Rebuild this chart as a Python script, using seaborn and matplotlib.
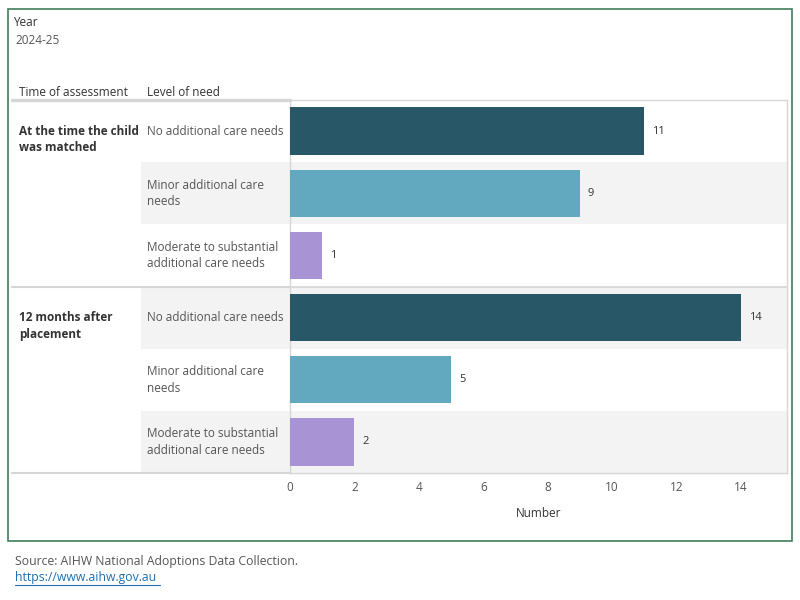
import pandas as pd
import seaborn as sns
import matplotlib.pyplot as plt
from matplotlib.patches import Rectangle
from matplotlib.transforms import blended_transform_factory

sns.set_theme(style="white")
plt.rcParams["font.family"] = ["Open Sans", "DejaVu Sans"]

# data
times = ["At the time the child\nwas matched", "12 months after\nplacement"]
levels = ["No additional care needs", "Minor additional care\nneeds",
          "Moderate to substantial\nadditional care needs"]
matched = [11, 9, 1]
after_12m = [14, 5, 2]
x_ticks = [0, 2, 4, 6, 8, 10, 12, 14]

colors = ["#285767", "#62a9c0", "#a894d5"]
GREY_TXT = "#555555"
DARK_TXT = "#333333"
LINE = "#d6d6d6"
BAND = "#f3f3f3"

rows = []
for t, vals in zip(times, [matched, after_12m]):
    for lv, v in zip(levels, vals):
        rows.append({"row": t + "|" + lv, "time": t, "level": lv, "value": v})
df = pd.DataFrame(rows)

W, H = 800, 600
fig = plt.figure(figsize=(8, 6), dpi=100)
ax_l, ax_r, ax_t, ax_b = 290, 787, 100, 473
ax = fig.add_axes([ax_l / W, 1 - ax_b / H, (ax_r - ax_l) / W, (ax_b - ax_t) / H])

sns.barplot(data=df, x="value", y="row", hue="level", palette=colors,
            order=df["row"].tolist(), hue_order=levels, dodge=False,
            width=0.76, saturation=1, linewidth=0, legend=False, ax=ax, zorder=3)

xmax = 15.43
ax.set_xlim(0, xmax)
ax.set_ylim(len(df) - 0.5, -0.5)
ax.set_yticks([])
ax.set_ylabel("")
ax.set_xticks(x_ticks)
ax.set_xticklabels([str(t) for t in x_ticks], color=GREY_TXT, fontsize=8.5)
ax.tick_params(axis="x", length=0, pad=6)
ax.set_xlabel("Number", fontsize=8.5, color=DARK_TXT, labelpad=9)
for s in ax.spines.values():
    s.set_color(LINE)
    s.set_linewidth(1)

axw = ax_r - ax_l
lab_col = (141 - ax_l) / axw
far_left = (12 - ax_l) / axw
tr = blended_transform_factory(ax.transAxes, ax.transData)

# alternating row bands
for i in range(len(df)):
    if i % 2 == 1:
        ax.add_patch(Rectangle((lab_col, i - 0.5), 1 - lab_col, 1, transform=tr,
                               facecolor=BAND, edgecolor="none", clip_on=False, zorder=0))

# separators
for y, lw in [(-0.5, 2.5), (2.5, 1.5), (5.5, 1.5)]:
    ax.plot([far_left, 0], [y, y], transform=tr, color=LINE, lw=lw, clip_on=False, zorder=1)
ax.plot([0, 1], [2.5, 2.5], transform=tr, color=LINE, lw=1.2, clip_on=False, zorder=4)

# row labels
for i, r in df.iterrows():
    ax.text((147 - ax_l) / axw, i, r["level"], transform=tr, ha="left", va="center",
            fontsize=8.5, color=GREY_TXT, linespacing=1.35)
    ax.text(r["value"] + 0.25, i, str(r["value"]), ha="left", va="center",
            fontsize=8, color=DARK_TXT, zorder=5)
for g, t in enumerate(times):
    ax.text((19 - ax_l) / axw, g * 3 - 0.1, t, transform=tr, ha="left", va="top",
            fontsize=8.5, color=DARK_TXT, fontweight="bold", linespacing=1.35)

# headers
fig.text(19 / W, 1 - 92 / H, "Time of assessment", fontsize=8.5, color=DARK_TXT, va="center")
fig.text(147 / W, 1 - 92 / H, "Level of need", fontsize=8.5, color=DARK_TXT, va="center")
fig.text(13 / W, 1 - 22 / H, "Year", fontsize=8.5, color=DARK_TXT, va="center")
fig.text(15 / W, 1 - 40 / H, "2024-25", fontsize=8.5, color=GREY_TXT, va="center")

# outer frame
fig.patches.append(Rectangle((8 / W, 1 - 541 / H), 784 / W, 532 / H, transform=fig.transFigure,
                             fill=False, edgecolor="#3f7d5c", lw=1.2))

# source
fig.text(15 / W, 1 - 561 / H, "Source: AIHW National Adoptions Data Collection.",
         fontsize=8.8, color=GREY_TXT, va="center")
fig.text(15 / W, 1 - 578 / H, "https://www.aihw.gov.au", fontsize=8.8,
         color="#1f6fae", va="center")
fig.add_artist(plt.Line2D([15 / W, 160 / W], [1 - 585 / H, 1 - 585 / H], color="#1f6fae", lw=0.8))

fig.savefig("out.png", dpi=100)
